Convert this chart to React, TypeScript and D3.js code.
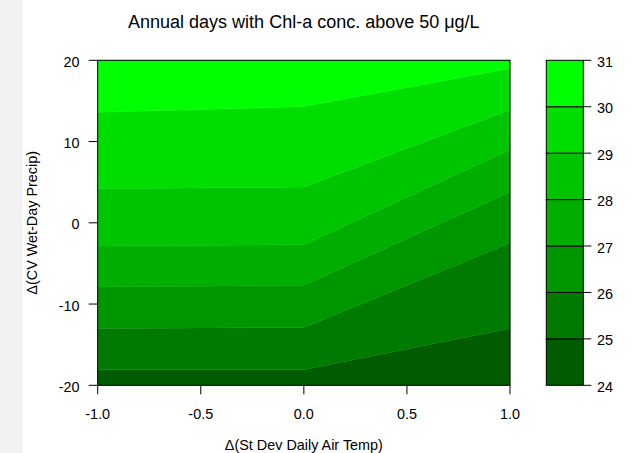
import React from 'react';
import * as d3 from 'd3';

// x positions of the grid columns (contours bend at 0)
const xGrid = [-1, 0, 1];

// y value where each contour level crosses x = -1, 0, 1
const level25 = [-18.1, -18.1, -13.0];
const level26 = [-13.0, -12.9, -2.5];
const level27 = [-7.9, -7.7, 3.8];
const level28 = [-2.85, -2.7, 9.0];
const level29 = [4.2, 4.4, 13.9];
const level30 = [13.6, 14.3, 19.0];

const levels = [24, 25, 26, 27, 28, 29, 30, 31];
const bandColors = ['#005c00', '#007a00', '#009600', '#00ae00', '#00c400', '#00de00', '#00ff00'];

const xTicks = [-1, -0.5, 0, 0.5, 1];
const yTicks = [-20, -10, 0, 10, 20];

const title = 'Annual days with Chl-a conc. above 50 \u03bcg/L';
const xLabel = '\u0394(St Dev Daily Air Temp)';
const yLabel = '\u0394(CV Wet-Day Precip)';

const W = 636;
const H = 453;
const font = '"Liberation Sans", Arial, Helvetica, sans-serif';

export default function App() {
  const plot = { left: 97.7, right: 510, top: 60.3, bottom: 385.3 };
  const key = { left: 546.3, right: 583.3 };

  const x = d3.scaleLinear().domain([-1, 1]).range([plot.left, plot.right]);
  const y = d3.scaleLinear().domain([-20, 20]).range([plot.bottom, plot.top]);
  const yKey = d3.scaleLinear().domain([24, 31]).range([plot.bottom, plot.top]);

  const [y0, y1] = y.domain();
  const bottomEdge = xGrid.map(() => y0);
  const topEdge = xGrid.map(() => y1);
  const bounds = [bottomEdge, level25, level26, level27, level28, level29, level30, topEdge];

  const bands = bandColors.map((color, i) => {
    const lower = bounds[i];
    const upper = bounds[i + 1];
    const area = d3
      .area<number>()
      .x((d) => x(d))
      .y0((_, j) => y(lower[j]))
      .y1((_, j) => y(upper[j]));
    return { color, d: area(xGrid) as string };
  });

  // R style labels: plain hyphen for minus
  const fmtX = d3.formatLocale({ decimal: '.', thousands: ',', grouping: [3], currency: ['', ''], minus: '-' }).format('.1f');

  return (
    <svg
      width={W}
      height={H}
      style={{ position: 'absolute', left: 0, top: 0, background: '#fff' }}
      fontFamily={font}
    >
      <rect x={0} y={0} width={W} height={H} fill="#fff" />
      <rect x={0} y={0} width={22.5} height={H} fill="#f2f2f2" />

      <text x={(plot.left + plot.right) / 2} y={27.5} textAnchor="middle" fontSize={18} fill="#000">
        {title}
      </text>

      {/* filled contour bands */}
      <g>
        {bands.map((b, i) => (
          <path key={i} d={b.d} fill={b.color} stroke={b.color} strokeWidth={0.4} />
        ))}
      </g>
      <rect
        x={plot.left}
        y={plot.top}
        width={plot.right - plot.left}
        height={plot.bottom - plot.top}
        fill="none"
        stroke="#000"
        strokeWidth={1}
      />

      {/* x axis */}
      <g>
        {xTicks.map((t) => (
          <g key={t}>
            <line x1={x(t)} x2={x(t)} y1={plot.bottom} y2={plot.bottom + 9} stroke="#000" />
            <text x={x(t)} y={419} textAnchor="middle" fontSize={14.4} fill="#000">
              {fmtX(t)}
            </text>
          </g>
        ))}
        <text x={(plot.left + plot.right) / 2} y={450} textAnchor="middle" fontSize={14.4} fill="#000">
          {xLabel}
        </text>
      </g>

      {/* y axis */}
      <g>
        {yTicks.map((t) => (
          <g key={t}>
            <line x1={plot.left - 9} x2={plot.left} y1={y(t)} y2={y(t)} stroke="#000" />
            <text x={79.5} y={y(t) + 6.5} textAnchor="end" fontSize={14.4} fill="#000">
              {t}
            </text>
          </g>
        ))}
        <text
          transform={`translate(36.5,${(plot.top + plot.bottom) / 2}) rotate(-90)`}
          textAnchor="middle"
          fontSize={14.4}
          fill="#000"
        >
          {yLabel}
        </text>
      </g>

      {/* colour key */}
      <g>
        {bandColors.map((c, i) => (
          <rect
            key={i}
            x={key.left}
            y={yKey(levels[i + 1])}
            width={key.right - key.left}
            height={yKey(levels[i]) - yKey(levels[i + 1])}
            fill={c}
            stroke="#000"
            strokeWidth={1}
          />
        ))}
        {levels.map((l) => (
          <g key={l}>
            <line x1={key.right} x2={key.right + 8} y1={yKey(l)} y2={yKey(l)} stroke="#000" />
            <text x={597} y={yKey(l) + 6.5} fontSize={14.4} fill="#000">
              {l}
            </text>
          </g>
        ))}
      </g>
    </svg>
  );
}
